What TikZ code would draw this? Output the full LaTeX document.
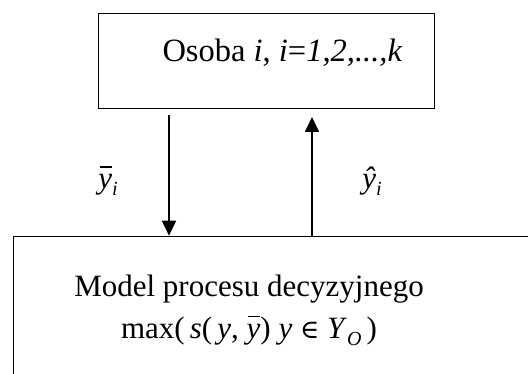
\documentclass[tikz,border=0pt]{standalone}
\usepackage{fontspec}
\setmainfont{Liberation Serif}
\newfontfamily\symfnt{DejaVu Serif}
\usetikzlibrary{arrows.meta}
\newcommand{\ovl}[1]{\leavevmode\setbox0\hbox{#1}\rlap{\kern0.12\wd0\raisebox{0.68em}{\rule{0.85\wd0}{0.04em}}}\box0}
\newcommand{\sbs}[1]{\raisebox{-0.22em}{\fontsize{20}{20}\selectfont\textit{#1}}}
\tikzset{
  box/.style={draw, line width=1.2pt, rectangle, inner sep=0pt},
  arr/.style={line width=1.8pt, -{Triangle[width=14pt,length=15pt]}},
  txt/.style={font=\fontsize{31}{42}\selectfont, inner sep=0pt},
}
\begin{document}
\begin{tikzpicture}[x=1pt,y=-1pt]
\useasboundingbox (0,0) rectangle (528,374);
\clip (0,0) rectangle (528,374);
\node[box, anchor=north west, minimum width=336pt, minimum height=95pt] (osoba) at (98,13) {};
\node[txt, font=\fontsize{32.5}{40}\selectfont, anchor=base] (osobatext) at (282.5,62) {Osoba \textit{i}, \textit{i}=\textit{1,2,...,k}};
\node[box, anchor=north west, minimum width=560pt, minimum height=200pt] (model) at (12.7,235.7) {};
\node[txt, align=center] (modeltext) at (249,310) {Model procesu decyzyjnego\\max(\,\textit{s}(\,\textit{y}, \ovl{\textit{y}}) \textit{y} {\symfnt\fontsize{26}{26}\selectfont∈} \textit{Y}\sbs{O}\,)};
\coordinate (dstart) at (169,115);
\coordinate (utip) at (312,117);
\draw[arr] (dstart) -- (dstart |- model.north);
\draw[arr] (utip |- model.north) -- (utip);
\node[txt] (ybar) at (108,181) {\ovl{\textit{y}}\sbs{i}};
\node[txt] (yhat) at (372,181) {\textit{ŷ}\sbs{i}};
\end{tikzpicture}
\end{document}
